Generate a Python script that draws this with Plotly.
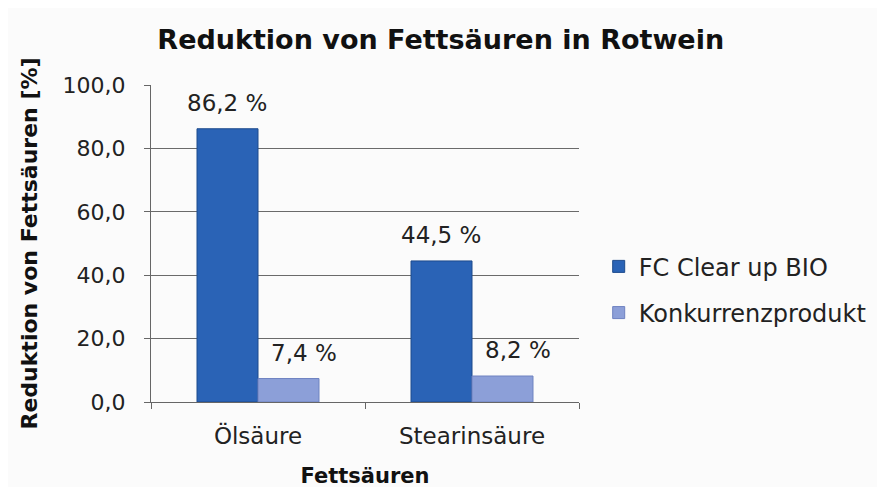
import plotly.graph_objects as go

categories = ["Ölsäure", "Stearinsäure"]
fc_clear = [86.2, 44.5]
konkurrenz = [7.4, 8.2]
series_names = ["FC Clear up BIO", "Konkurrenzprodukt"]
y_ticks = [0, 20, 40, 60, 80, 100]

font_family = "DejaVu Sans, Liberation Sans, Arial, sans-serif"

fig = go.Figure()
fig.add_trace(go.Bar(
    x=categories, y=fc_clear, name=series_names[0],
    marker=dict(color="#2a63b6", line=dict(color="#1d4a8c", width=1)),
    legendgroup="a",
))
fig.add_trace(go.Bar(
    x=categories, y=konkurrenz, name=series_names[1],
    marker=dict(color="#8c9fd8", line=dict(color="#6e82c0", width=1)),
    legendgroup="b",
))

# value labels above the bars (pixel offsets = label styling)
for vals, shift in ((fc_clear, -31), (konkurrenz, 46)):
    for c, v in zip(categories, vals):
        fig.add_annotation(
            x=c, y=v, text=f"{v:.1f} %".replace(".", ","),
            showarrow=False, xshift=shift, yanchor="bottom", yshift=11,
            font=dict(size=23, color="#222", family=font_family),
        )

fig.update_layout(
    width=885, height=487,
    margin=dict(l=143, r=314, t=77, b=91),
    paper_bgcolor="#fbfbfb", plot_bgcolor="#fbfbfb",
    separators=",.",
    font=dict(family=font_family, color="#222"),
    bargap=0.43, bargroupgap=0,
    title=dict(text="<b>Reduktion von Fettsäuren in Rotwein</b>",
               x=0.489, xanchor="center", y=0.936, yanchor="middle",
               font=dict(size=27, color="#111")),
    legend=dict(x=1.046, xanchor="left", y=0.354, yanchor="middle",
                font=dict(size=24, color="#222"), bgcolor="rgba(0,0,0,0)",
                tracegroupgap=12, itemwidth=30),
    xaxis=dict(
        title=dict(text="<b>Fettsäuren</b>", font=dict(size=21, color="#111"), standoff=20),
        tickfont=dict(size=23, color="#222"),
        showline=True, linecolor="#666", linewidth=1,
        ticks="outside", tickson="boundaries", ticklen=6, tickcolor="#666",
        showgrid=False, ticklabelstandoff=13,
    ),
    yaxis=dict(
        title=dict(text="<b>Reduktion von Fettsäuren [%]</b>", font=dict(size=22, color="#111"), standoff=18),
        range=[0, 100], tickvals=y_ticks, tickformat=".1f",
        tickfont=dict(size=22, color="#222"),
        showline=True, linecolor="#666", linewidth=1,
        ticks="outside", ticklen=6, tickcolor="#666",
        showgrid=True, gridcolor="#6a6a6a", gridwidth=1,
        zeroline=False, ticklabelstandoff=14,
    ),
)

fig.write_html("out.html")
